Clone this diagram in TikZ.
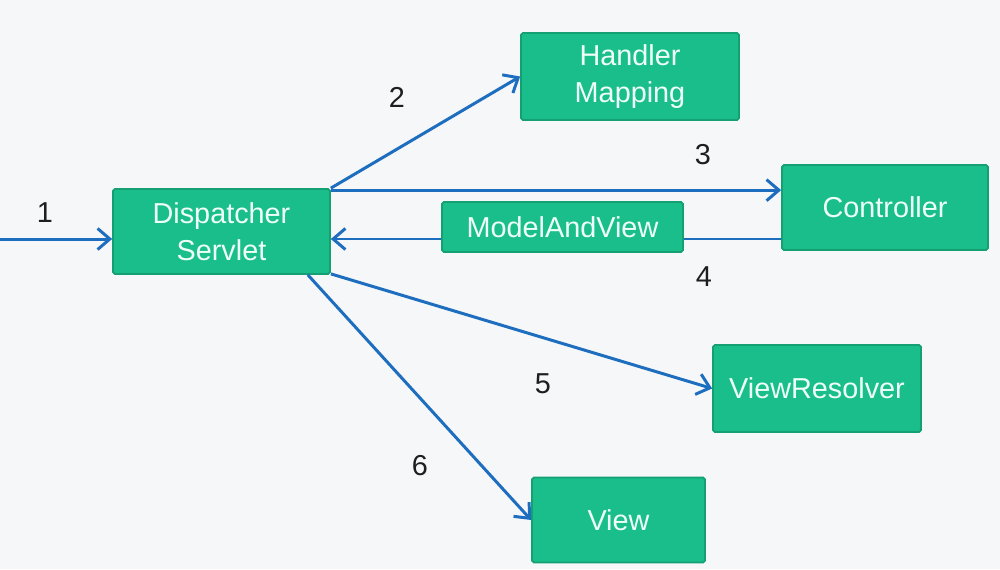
\documentclass[tikz,border=0pt]{standalone}
\usepackage{fontspec}
\setmainfont{Liberation Sans}
\usetikzlibrary{arrows.meta}
\definecolor{boxfill}{HTML}{1ABE8B}
\definecolor{boxline}{HTML}{14A073}
\definecolor{boxtext}{HTML}{EEFFF7}
\definecolor{flowblue}{HTML}{1E6EC0}
\definecolor{bg}{HTML}{F6F7F8}
\definecolor{numcol}{HTML}{1E1E1E}
\tikzset{
  box/.style={draw=boxline, line width=1pt, fill=boxfill, text=boxtext, align=center,
    inner sep=0pt, rounded corners=1pt,
    font=\fontsize{16.4}{21}\selectfont},
  flow/.style={draw=flowblue, line width=1.7pt, -{Straight Barb[length=7pt,width=12pt,line width=1.7pt]}},
  plain/.style={draw=flowblue, line width=1.7pt},
  num/.style={text=numcol, font=\fontsize{16.4}{20}\selectfont, inner sep=0pt}
}
\begin{document}
\begin{tikzpicture}[x=0.02cm,y=-0.02cm]
\fill[bg] (0,0) rectangle (1000,569);
\useasboundingbox (0,0) rectangle (1000,569);

\node[box, minimum width=4.34cm, minimum height=1.70cm] (ds) at (221.5,231.5) {Dispatcher\\Servlet};
\node[box, minimum width=4.36cm, minimum height=1.74cm] (hm) at (630,76.5) {Handler\\Mapping};
\node[box, minimum width=4.12cm, minimum height=1.70cm] (ctrl) at (885,207.5) {Controller};
\node[box, minimum width=4.16cm, minimum height=1.74cm] (vr) at (817,388.5) {ViewResolver};
\node[box, minimum width=3.46cm, minimum height=1.70cm] (view) at (618.5,520) {View};

\coordinate (in) at (0,239);
\draw[flow] (in) -- (in -| ds.west);
\node[num] (n1) at (45,213) {1};

\draw[flow] (ds.north east) -- (hm.west);
\node[num] (n2) at (397,97) {2};

\coordinate (s3) at ([yshift=-0.04cm]ds.north east);
\draw[flow] (s3) -- (s3 -| ctrl.west);
\node[num] (n3) at (703,155) {3};

\coordinate (s4) at ([yshift=-0.63cm]ctrl.west);
\draw[flow] (s4) -- (s4 -| ds.east);
\node[box, minimum width=4.82cm, minimum height=1.0cm] (mav) at (562.5,227) {ModelAndView};
\node[num] (n4) at (704,277) {4};

\draw[flow] ([yshift=0.02cm]ds.south east) -- (vr.west);
\node[num] (n5) at (543,384) {5};

\draw[flow] ([xshift=-0.46cm]ds.south east) -- (view.west);
\node[num] (n6) at (420,466) {6};
\end{tikzpicture}
\end{document}
